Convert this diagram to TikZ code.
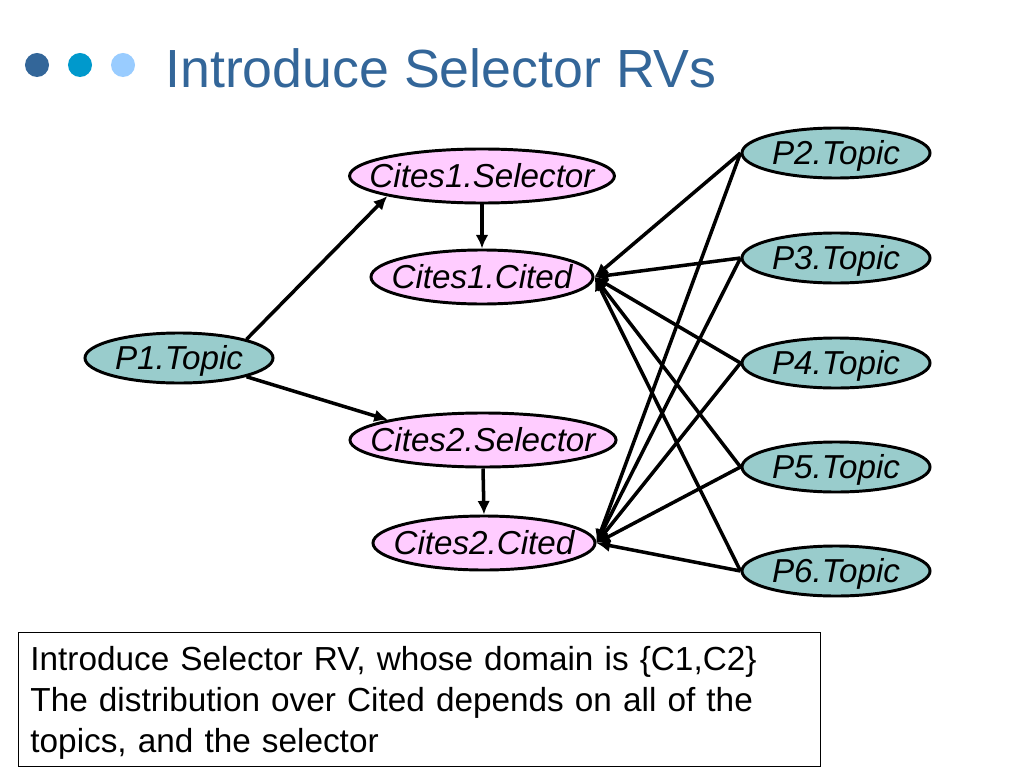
\documentclass[tikz,border=0pt]{standalone}
\usepackage{fontspec}
\setmainfont{Liberation Sans}
\usetikzlibrary{shapes,arrows,arrows.meta}
\definecolor{titleblue}{RGB}{51,102,153}
\definecolor{dotmid}{RGB}{0,153,204}
\definecolor{dotlight}{RGB}{153,204,255}
\definecolor{citepink}{RGB}{255,204,255}
\definecolor{topicteal}{RGB}{153,204,204}

\begin{document}
\begin{tikzpicture}[x=0.025cm,y=-0.025cm]
        % selector RVs pick which topics each Cited depends on
        \tikzstyle{topic} = [draw,ellipse,fill=topicteal,line width=2.1pt,inner sep=0pt,minimum width=4.7cm,minimum height=1.25cm,text height=16.8pt,text depth=0pt,font=\itshape\fontsize{23.6}{27}\selectfont];
        \tikzstyle{cite} = [draw,ellipse,fill=citepink,line width=2.1pt,inner sep=0pt,minimum height=1.35cm,text height=16.8pt,text depth=0pt,font=\itshape\fontsize{23.6}{27}\selectfont];
        \tikzstyle{dot} = [circle,inner sep=0pt,minimum size=0.6cm];
        \tikzstyle{dep} = [-{Latex[length=0.34cm,width=0.32cm]},line width=2.5pt];

        \useasboundingbox (0,0) rectangle (1024,768);

        \node[dot,fill=titleblue] (dot1) at (37,65) {};
        \node[dot,fill=dotmid] (dot2) at (80,65) {};
        \node[dot,fill=dotlight] (dot3) at (123,65) {};
        \node[anchor=base west,inner sep=0pt,text=titleblue,font=\fontsize{38.2}{44}\selectfont] (title) at (165,88) {Introduce Selector RVs};

        \node[topic] (p1) at (179,358) {\makebox[0pt]{P1.Topic}};
        \node[cite,minimum width=6.62cm] (sel1) at (482,176) {\makebox[0pt]{Cites1.Selector}};
        \node[cite,minimum width=5.55cm] (cited1) at (482,277) {\makebox[0pt]{Cites1.Cited}};
        \node[cite,minimum width=6.65cm] (sel2) at (483,440) {\makebox[0pt]{Cites2.Selector}};
        \node[cite,minimum width=5.55cm] (cited2) at (484,543) {\makebox[0pt]{Cites2.Cited}};

        \node[topic] (p2) at (836,153) {\makebox[0pt]{P2.Topic}};
        \node[topic] (p3) at (836,258) {\makebox[0pt]{P3.Topic}};
        \node[topic] (p4) at (836,363) {\makebox[0pt]{P4.Topic}};
        \node[topic] (p5) at (836,467) {\makebox[0pt]{P5.Topic}};
        \node[topic] (p6) at (836,571) {\makebox[0pt]{P6.Topic}};

        \draw[dep] (p1.north east) -- (sel1.south west);
        \draw[dep] (p1.south east) -- (sel2.north west);
        \draw[dep] (sel1.south) -- (cited1.north);
        \draw[dep] (sel2.south) -- (cited2.north);

        \draw[dep] (p2.west) -- (cited1.east);
        \draw[dep] (p3.west) -- (cited1.east);
        \draw[dep] (p4.west) -- (cited1.east);
        \draw[dep] (p5.west) -- (cited1.east);
        \draw[dep] (p6.west) -- (cited1.east);
        \draw[dep] (p2.west) -- (cited2.east);
        \draw[dep] (p3.west) -- (cited2.east);
        \draw[dep] (p4.west) -- (cited2.east);
        \draw[dep] (p5.west) -- (cited2.east);
        \draw[dep] (p6.west) -- (cited2.east);

        \node[draw,line width=0.6pt,anchor=north west,minimum width=20.05cm,minimum height=3.35cm,text width=19.45cm,inner xsep=0.3cm,align=left,font=\fontsize{23.7}{29.2}\selectfont] (note) at (18,632) {\rule{0pt}{0.76cm}Introduce Selector RV, whose domain is \{C1,C2\}\\The distribution over Cited depends on all of the\\topics, and the selector};
\end{tikzpicture}
\end{document}
